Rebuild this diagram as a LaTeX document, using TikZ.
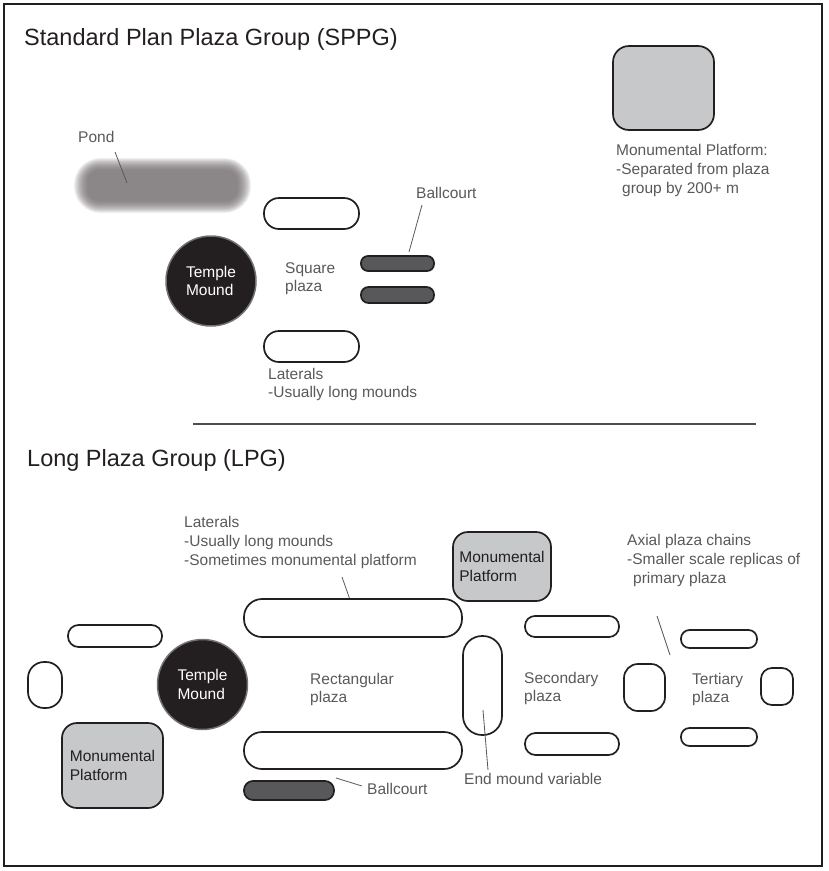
\documentclass[tikz,border=0pt]{standalone}
\usepackage{fontspec}
\setmainfont{Liberation Sans}
\definecolor{ink}{HTML}{231F20}
\definecolor{lbl}{HTML}{58595B}
\definecolor{plat}{HTML}{C7C8CA}
\definecolor{court}{HTML}{58585A}
\definecolor{pondc}{HTML}{6A6466}
\tikzset{
  mound/.style={draw=ink, line width=1.7pt, fill=white, inner sep=0pt},
  pill/.style n args={3}{mound, minimum width=#1pt, minimum height=#2pt, rounded corners=#3pt},
  courtpill/.style n args={3}{pill={#1}{#2}{#3}, fill=court},
  platbox/.style n args={2}{pill={#1}{#2}{15}, fill=plat, text=ink, align=left,
     font=\fontsize{15.5}{18.5}\selectfont},
  temple/.style={circle, fill=ink, draw=black!55, line width=1.5pt, minimum size=90pt,
     inner sep=0pt, text=white, align=left, font=\fontsize{15.5}{18.5}\selectfont},
  lab/.style={anchor=base west, text=lbl, font=\fontsize{15.5}{18.5}\selectfont, inner sep=0pt},
  ttl/.style={anchor=base west, text=ink, font=\fontsize{23.5}{28}\selectfont, inner sep=0pt},
  leader/.style={draw=lbl, line width=0.8pt}
}
\begin{document}
\begin{tikzpicture}[x=1pt,y=-1pt]
\useasboundingbox (0,0) rectangle (829,871);
\draw[ink, line width=2.5pt] (4,4) rectangle (822,866);

% ---------- SPPG ----------
\node[ttl] (t1) at (24,45) {Standard Plan Plaza Group (SPPG)};

% pond (blurred)
\foreach \k in {0,...,15} {
  \pgfmathsetmacro\rr{26.5-\k}
  \pgfmathsetmacro\rx{\k*0.9}
  \pgfmathsetmacro\ry{\k*0.8}
  \fill[pondc, opacity=0.09, rounded corners=\rr pt] (74+\rx,158+\ry) rectangle (251-\rx,213-\ry);
}
\node[lab] (pondl) at (78,142) {Pond};
\coordinate (pa) at (115,152);
\coordinate (pb) at (127,183);
\draw[leader] (pa) -- (pb);

\node[pill={95}{31}{15}] (lat1) at (311.5,213.5) {};
\node[pill={95}{31}{15}] (lat2) at (311.5,346.5) {};
\node[temple] (tm1) at (211,281) {Temple\\Mound};
\node[lab] (sq1) at (285,273) {Square};
\node[lab] (sq2) at (285,291) {plaza};
\node[courtpill={73}{15}{7}] (bc1) at (397.5,263.5) {};
\node[courtpill={73}{16}{7.5}] (bc2) at (397.5,295) {};
\node[lab] (bcl1) at (416,198) {Ballcourt};
\coordinate (ba) at (422,205);
\coordinate (bb) at (409,252);
\draw[leader] (ba) -- (bb);
\node[lab] (latl1) at (268,379) {Laterals};
\node[lab] (latl2) at (268,397) {-Usually long mounds};

\node[pill={101}{84}{16}, fill=plat] (mp1) at (663.5,88) {};
\node[lab] (mpl1) at (616,155) {Monumental Platform:};
\node[lab] (mpl2) at (616,174) {-Separated from plaza};
\node[lab] (mpl3) at (622,193) {group by 200+ m};

% divider
\coordinate (d1) at (193,424);
\coordinate (d2) at (756,424);
\draw[ink!80, line width=1.2pt] (d1) -- (d2);

% ---------- LPG ----------
\node[ttl] (t2) at (27,466) {Long Plaza Group (LPG)};

\node[lab] (ll1) at (184,527) {Laterals};
\node[lab] (ll2) at (184,546) {-Usually long mounds};
\node[lab] (ll3) at (184,565) {-Sometimes monumental platform};
\coordinate (la) at (342,577);
\coordinate (lb) at (355,614);
\draw[leader] (la) -- (lb);

\node[pill={218}{38}{18}] (latA) at (353,618) {};
\node[pill={218}{37}{18}] (latB) at (353,750.5) {};
\node[courtpill={90}{19}{9}] (bc3) at (289,790.5) {};
\node[lab] (bcl2) at (367,794) {Ballcourt};
\coordinate (bca) at (336,778);
\coordinate (bcb) at (362,786);
\draw[leader] (bca) -- (bcb);

\node[pill={94}{22}{10.5}] (sp) at (115,636) {};
\node[pill={34}{46}{16}] (ov) at (45,685) {};
\node[temple] (tm2) at (202.5,684.5) {Temple\\Mound};
\node[platbox={101}{85}] (mp2) at (112.5,765.5) {Monumental\\Platform};
\node[platbox={98}{69}] (mp3) at (502,566.5) {Monumental\\Platform};

\node[lab] (rp1) at (310,684) {Rectangular};
\node[lab] (rp2) at (310,702) {plaza};

\node[pill={39}{99}{19}] (em) at (482.5,685.5) {};
\node[lab] (eml) at (464,784) {End mound variable};
\coordinate (ea) at (483,710);
\coordinate (eb) at (488,770);
\draw[leader] (ea) -- (eb);

\node[pill={94}{21}{10}] (s1) at (572,626.5) {};
\node[pill={94}{22}{10.5}] (s2) at (572,744) {};
\node[lab] (sl1) at (524,683) {Secondary};
\node[lab] (sl2) at (524,701) {plaza};
\node[pill={41}{47}{14}] (rs1) at (644.5,687.5) {};

\node[pill={76}{18}{8.5}] (t1p) at (719,639) {};
\node[pill={76}{18}{8.5}] (t2p) at (719,737) {};
\node[lab] (tl1) at (692,684) {Tertiary};
\node[lab] (tl2) at (692,702) {plaza};
\node[pill={32}{37}{11}] (rs2) at (777,686.5) {};

\node[lab] (ax1) at (627,545) {Axial plaza chains};
\node[lab] (ax2) at (627,564) {-Smaller scale replicas of};
\node[lab] (ax3) at (633,583) {primary plaza};
\coordinate (aa) at (657,616);
\coordinate (ab) at (670,655);
\draw[leader] (aa) -- (ab);
\end{tikzpicture}
\end{document}
